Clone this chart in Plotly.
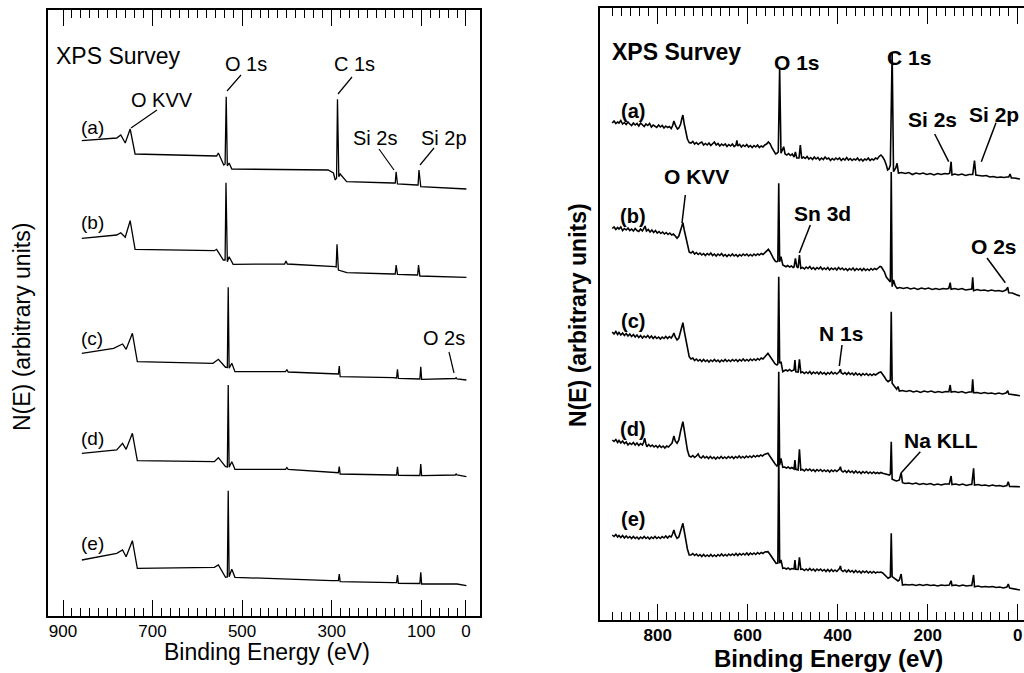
import plotly.graph_objects as go

# ---------------- data (binding energy eV, intensity arb. units) ----------------
SPECTRUM_LABELS = ["(a)", "(b)", "(c)", "(d)", "(e)"]

LEFT_A = [(858, 475.3), (780, 478), (771, 481), (761, 473), (750, 487), (739, 462),
          (557, 460), (553, 463), (541, 451), (538, 452), (535.5, 519.3), (533, 450),
          (529, 453), (523, 447), (308, 446), (296, 443), (292, 436), (289, 438),
          (287, 516.7), (284, 439.3), (281, 442), (266.5, 434.3), (163, 433), (158, 433),
          (156, 444.3), (153, 432), (110, 431), (107, 431), (105, 446), (101, 429.3), (-1, 427)]
LEFT_B = [(858, 377.7), (780, 381), (771, 383.3), (761, 378.7), (750, 395.3), (739, 366.7),
          (562, 365.3), (557, 366.7), (542, 356), (538, 356), (536, 433.3), (533, 354.3),
          (529, 359.3), (520, 351.7), (405, 352), (402, 355), (399, 352), (307, 350.3),
          (292, 349.3), (290, 349), (288, 371.7), (285, 346), (266, 343.3), (163, 342),
          (158, 342), (156, 351), (153, 341.7), (110, 341), (108, 341), (106, 351),
          (103, 340), (-1, 338.7)]
LEFT_C = [(858, 262.7), (787, 267.7), (767, 272), (759, 266.7), (745, 282.7), (734, 254.3),
          (565, 252.7), (553, 256.7), (537, 248.7), (533, 248.5), (531, 328.7), (529, 247.7),
          (523, 252.7), (516, 244.3), (403, 244.3), (400, 246.5), (397, 244), (300, 242),
          (285, 242), (283, 250), (281, 239.3), (163, 238.3), (155, 238), (153, 246.7),
          (151, 237.7), (103, 237), (101, 249.3), (99, 236.7), (24, 237.5), (22, 238.3),
          (20, 237), (-1, 236)]
LEFT_D = [(858, 162.7), (780, 166), (767, 172.7), (759, 166.7), (745, 182.7), (734, 155.3),
          (562, 154.3), (553, 158.3), (537, 149.3), (533, 149), (531, 231), (529, 148.7),
          (523, 154.3), (516, 146.7), (403, 146.7), (400, 148.5), (397, 146.7), (300, 143.3),
          (285, 143.3), (283, 149.3), (281, 142), (163, 141), (155, 141), (153, 149.3),
          (151, 140.7), (103, 140.5), (101, 152), (99, 140.3), (24, 141), (22, 142),
          (20, 141), (-1, 139.3)]
LEFT_E = [(858, 56), (780, 62.7), (767, 66), (759, 59.3), (745, 75.3), (734, 47.7),
          (562, 48.7), (553, 51), (537, 38.7), (533, 39), (531, 125.3), (529, 39.3),
          (523, 46.7), (516, 38.7), (300, 35.3), (285, 35.3), (283, 42), (281, 34.3),
          (163, 33.3), (155, 33.3), (153, 41), (151, 32.7), (103, 32.5), (101, 43.7),
          (99, 32), (24, 32.5), (22, 32.7), (20, 32), (-1, 30.3)]

RIGHT_A = [(901, 497), (897, 499), (893, 496.5), (889, 498), (886, 497), (882, 499.5), (878, 496),
           (874, 497.5), (870, 495.5), (866, 498), (862, 496), (858, 494.5), (854, 497), (850, 495),
           (846, 496.5), (842, 494), (838, 497), (834, 495), (830, 493.5), (826, 496), (822, 494.5),
           (818, 496.5), (814, 493), (810, 495), (806, 494), (802, 492.5), (798, 495), (794, 493),
           (790, 494.5), (786, 492), (782, 494), (778, 492.5), (774, 493.5), (770, 491.5),
           (767, 494), (764, 499), (760, 494), (756, 491), (753, 492), (749, 496), (746, 502),
           (744, 505), (741, 496), (738, 488), (734, 481), (730, 477.5),
           (726, 477), (722, 478.5), (718, 476), (714, 477.5), (710, 475.5), (706, 477), (702, 478),
           (698, 475), (694, 476.5), (690, 475), (686, 477), (682, 474.5), (678, 476), (674, 478),
           (670, 475), (666, 476.5), (662, 474), (658, 476), (654, 474.5), (650, 476), (646, 473.5),
           (642, 475.5), (638, 474), (634, 476), (630, 473.5), (626, 475), (624, 479.5), (622, 474),
           (618, 475.5), (614, 473), (610, 475), (606, 473.5), (602, 475.5), (598, 473),
           (594, 474.5), (590, 472.5), (586, 474.5), (582, 473), (578, 475), (574, 472.5),
           (570, 474), (566, 473), (562, 475), (558, 476), (554, 478), (550, 476), (546, 472),
           (542, 469), (538, 466), (535, 466.7), (532, 468), (529, 552), (526, 466.7), (520, 473.3),
           (517, 466), (513, 465), (509, 466.5), (505, 464.5), (501, 466), (497, 463), (494, 468),
           (491, 462), (486, 462), (483, 475), (480, 461.7),
           (476, 463), (472, 461.5), (468, 463.5), (464, 461), (460, 462.5), (456, 460.5),
           (452, 463), (448, 461), (444, 462.5), (440, 460), (436, 462), (432, 460.5), (428, 463),
           (424, 461), (420, 462), (416, 459.5), (412, 461.5), (408, 460), (404, 462), (400, 460.5),
           (396, 462), (392, 459.5), (388, 461.5), (384, 460), (380, 462.5), (376, 460),
           (372, 461.5), (368, 459.5), (364, 461), (360, 460), (356, 462), (352, 459.5), (348, 461),
           (344, 459), (340, 461), (336, 460), (332, 462), (328, 459.5), (324, 461), (320, 460),
           (316, 462), (312, 461), (308, 463.5), (304, 465), (300, 463), (296, 460), (292, 455),
           (289, 450), (286, 451), (283, 455), (279, 568), (276, 448.3), (271, 452), (268, 456.7),
           (265, 447), (258, 447.5), (250, 446.5), (242, 447.5), (234, 445.5), (226, 447),
           (218, 446), (210, 447), (202, 445.5), (194, 446.5), (186, 445), (178, 446.5),
           (170, 445.5), (162, 446.5), (155, 446), (151, 447), (148, 458.3), (146, 445), (140, 446),
           (132, 445), (124, 446), (116, 444.5), (108, 445.5), (100, 445.5), (96, 459.3), (93, 445),
           (86, 444.5), (78, 444), (70, 444.5), (62, 443), (54, 443.5), (46, 442.5), (38, 443),
           (30, 442.5), (24, 443), (20, 443), (17, 446), (14, 442), (8, 442), (0, 441.7), (-5, 441)]
RIGHT_B = [(901, 391.5), (897, 393), (893, 390.5), (889, 392.5), (886, 391), (882, 393), (878, 389.5),
           (874, 391.5), (870, 390), (866, 392), (862, 389.5), (858, 391), (854, 389), (850, 391.5),
           (846, 389.5), (842, 388.5), (838, 391), (834, 389), (830, 392), (828, 394), (825, 389),
           (821, 390.5), (817, 388), (813, 390), (809, 387.5), (805, 389.5), (801, 387),
           (797, 388.5), (793, 386.5), (789, 388), (785, 386), (781, 387.5), (777, 385.5),
           (773, 387), (769, 385), (765, 386), (761, 384), (757, 381.7), (753, 384), (749, 390),
           (746, 395), (744, 397.3), (741, 390), (738, 383), (734, 374), (730, 368),
           (726, 367), (722, 368.5), (718, 366), (714, 367.5), (710, 365.5), (706, 367), (702, 365),
           (698, 366.5), (694, 364.5), (690, 366.5), (686, 365), (682, 367), (678, 364.5),
           (674, 366), (670, 364), (666, 366), (662, 364.5), (658, 366.5), (654, 364), (650, 365.5),
           (646, 363.5), (642, 365.5), (638, 364), (634, 366), (630, 364), (626, 365.5),
           (622, 363.5), (618, 365.5), (614, 364), (610, 366), (606, 364.5), (602, 366), (598, 364),
           (594, 365.5), (590, 364), (586, 366), (582, 364.5), (578, 366), (574, 365), (570, 366.5),
           (566, 365.5), (562, 367), (558, 368.5), (554, 370.7), (550, 368), (546, 364), (542, 361),
           (538, 358.5), (535, 358.3), (533, 359), (531, 436.7), (529, 358.3), (526, 363.3),
           (522, 355), (518, 354), (515, 353.3), (511, 354.5), (507, 353), (503, 354), (499, 352.5),
           (497, 353), (494, 361.7), (491, 353.3), (488, 352), (485, 365), (482, 351.7),
           (478, 352.5), (474, 351), (470, 353), (466, 351.5), (462, 353.5), (458, 351),
           (454, 352.5), (450, 350.5), (446, 352.5), (442, 351), (438, 353), (434, 350.5),
           (430, 352), (426, 350.5), (422, 352.5), (418, 350), (414, 352), (410, 350.5), (406, 352),
           (402, 350), (398, 352.5), (394, 350.5), (390, 352), (386, 350), (382, 351.5),
           (378, 349.5), (374, 351.5), (370, 350), (366, 352), (362, 349.5), (358, 351.5),
           (354, 350), (350, 351.5), (346, 349.5), (342, 351.5), (338, 349.5), (334, 351),
           (330, 349.5), (326, 351.5), (322, 350), (318, 351.5), (314, 350.5), (310, 352),
           (306, 353.5), (303, 353), (300, 351), (296, 348), (292, 343), (288, 340), (285, 339),
           (283, 338), (281, 448), (279, 333.3), (276, 340), (272, 334), (268, 331.7),
           (262, 332.5), (254, 331.5), (246, 332.5), (238, 331), (230, 332), (222, 330.5),
           (214, 332), (206, 331), (198, 332), (190, 330.5), (182, 331.5), (174, 330.5),
           (166, 331.5), (158, 331), (153, 331.7), (150, 337.3), (148, 330.7), (140, 331.5),
           (132, 330.5), (124, 331.5), (116, 330), (108, 331), (102, 331), (100, 342.7), (98, 329.3),
           (90, 330.5), (82, 329.5), (74, 330), (66, 329), (58, 330), (50, 329), (42, 329.5),
           (34, 328.5), (26, 330), (22, 332.7), (20, 327.3), (12, 327), (4, 325.5), (-5, 324)]
RIGHT_C = [(901, 288), (897, 286), (893, 288.5), (889, 285.5), (886, 287.5), (882, 285), (878, 287),
           (874, 284.5), (870, 286.5), (866, 284), (862, 286), (858, 283.5), (854, 285.5), (850, 283),
           (846, 285), (842, 282.5), (838, 284.5), (834, 282), (830, 284), (826, 282.5), (822, 284.5),
           (818, 282), (814, 284), (810, 281.5), (806, 283.5), (802, 281.5), (798, 283), (794, 281),
           (790, 283), (786, 281.5), (782, 283.5), (778, 281.5), (774, 283.5), (770, 282),
           (767, 284), (764, 287), (761, 283), (757, 280), (753, 282), (749, 289), (746, 295),
           (744, 297.3), (741, 289), (738, 281), (734, 271), (730, 263.3),
           (726, 261), (722, 262), (718, 259.5), (714, 261), (710, 259), (706, 260.5), (702, 258.5),
           (698, 260.5), (694, 258.5), (690, 260), (686, 258), (682, 260), (678, 258.5),
           (674, 260.5), (670, 258.5), (666, 260), (662, 258), (658, 260), (654, 258.5),
           (650, 260.5), (646, 258.5), (642, 260), (638, 258.5), (634, 260.5), (630, 259),
           (626, 260.5), (622, 258.5), (618, 260.5), (614, 259), (610, 261), (606, 259),
           (602, 260.5), (598, 259), (594, 261), (590, 259.5), (586, 261), (582, 259.5),
           (578, 261.5), (574, 260), (570, 262), (566, 261), (562, 263), (558, 265), (555, 266.7),
           (551, 264), (547, 261), (543, 258), (539, 256), (535, 255), (533, 256), (531, 343.3),
           (529, 256.7), (526, 258.3), (522, 248.3), (518, 249.5), (515, 250), (511, 249),
           (507, 250.5), (503, 249), (499, 250), (497, 250), (495, 260), (493, 248.3), (488, 248),
           (485, 260.7), (482, 247.3),
           (478, 248), (474, 246.5), (470, 248), (466, 246.5), (462, 248.5), (458, 246), (454, 248),
           (450, 246.5), (446, 248), (442, 246), (438, 248), (434, 246), (430, 247.5), (426, 245.5),
           (422, 247.5), (418, 246), (414, 248), (410, 246), (406, 247.5), (402, 246), (398, 247.5),
           (396, 248.5), (394, 250.7), (392, 247), (388, 246), (384, 247.5), (380, 245.5),
           (376, 247.5), (372, 245.5), (368, 247), (364, 245), (360, 247), (356, 245), (352, 246.5),
           (348, 244.5), (344, 246.5), (340, 245), (336, 246.5), (332, 244.5), (328, 246),
           (324, 244.5), (320, 246), (316, 245), (312, 246.5), (308, 247.5), (304, 248), (300, 246),
           (296, 243), (292, 240), (288, 238.3), (283, 240), (281, 308.3), (279, 236.7), (276, 235),
           (272, 232), (269, 230.7), (266, 233.5), (263, 229),
           (256, 229.5), (248, 228.5), (240, 229.5), (232, 228), (224, 229), (216, 227.5),
           (208, 229), (200, 228), (192, 229), (184, 227.5), (176, 228.5), (168, 227.5),
           (160, 228.5), (153, 228.3), (150, 235), (148, 228), (140, 228.5), (132, 227.5),
           (124, 228.5), (116, 227), (108, 228), (102, 228), (100, 240.7), (98, 227.3), (90, 227.5),
           (82, 226.5), (74, 227.5), (66, 226.5), (58, 227), (50, 226), (42, 227), (34, 226),
           (26, 227), (22, 229.3), (20, 226), (12, 225.5), (4, 225), (-5, 224.3)]
RIGHT_D = [(901, 180), (897, 178.5), (893, 180.5), (889, 177.5), (886, 179.5), (882, 177), (878, 179),
           (874, 176.5), (870, 178), (866, 175), (862, 177), (858, 175.5), (854, 177.5), (850, 175),
           (846, 177), (842, 174.5), (838, 176.5), (834, 175), (831, 178), (829, 181.7), (826, 176),
           (824, 173.3), (820, 175.5), (816, 173.5), (812, 175), (808, 173), (804, 174.5),
           (800, 172.5), (796, 174.5), (792, 172.5), (788, 174), (784, 172), (780, 174), (776, 173),
           (772, 175), (768, 177), (764, 184), (761, 179), (757, 176.7), (753, 180), (749, 189),
           (746, 195), (744, 198.3), (741, 190), (738, 180), (734, 170), (730, 164),
           (726, 163), (722, 164.5), (718, 162.5), (714, 164), (710, 166), (707, 163), (703, 162),
           (699, 164), (695, 162), (691, 163.5), (687, 161.5), (683, 163.5), (679, 161.5),
           (675, 163), (671, 161), (667, 163), (663, 161.5), (659, 163.5), (655, 161.5), (651, 163),
           (647, 161.5), (643, 163.5), (639, 162), (635, 163.5), (631, 161.5), (627, 163.5),
           (623, 162), (619, 164), (615, 162), (611, 163.5), (607, 162), (603, 164), (599, 162.5),
           (595, 164), (591, 162.5), (587, 164.5), (583, 163), (579, 164.5), (575, 163.5),
           (571, 165), (567, 164), (563, 165.5), (559, 166), (555, 166.7), (551, 164), (547, 161),
           (543, 158), (539, 156), (535, 154), (533, 155), (531, 248.3), (529, 155), (526, 161.7),
           (522, 152.7), (518, 153), (514, 152), (510, 153), (506, 151.5), (502, 152.5), (497, 151),
           (495, 160), (493, 150.7), (488, 150), (485, 170.7), (482, 150),
           (478, 150.5), (474, 149), (470, 151), (466, 149.5), (462, 151), (458, 149), (454, 150.5),
           (450, 148.5), (446, 150.5), (442, 149), (438, 150.5), (434, 148.5), (430, 150),
           (426, 148.5), (422, 150), (418, 148), (414, 150), (410, 148.5), (406, 150), (402, 148.5),
           (398, 150), (396, 151), (394, 153.3), (392, 149.5), (388, 148), (384, 149.5),
           (380, 147.5), (376, 149.5), (372, 147.5), (368, 149), (364, 147), (360, 149), (356, 147),
           (352, 148.5), (348, 146.5), (344, 148.5), (340, 147), (336, 148.5), (332, 146.5),
           (328, 148), (324, 146.5), (320, 148), (316, 146.5), (312, 147.5), (308, 146.5),
           (304, 147.5), (300, 146.7), (295, 146), (290, 145), (285, 145), (283, 146), (281, 178.3),
           (279, 140.7), (275, 140), (270, 139), (266, 139.5), (263, 140), (259, 147.3),
           (256, 137.3),
           (250, 136.5), (242, 137), (234, 136), (226, 137), (218, 135.5), (210, 136.5),
           (202, 135.5), (194, 136.5), (186, 135), (178, 136), (170, 135), (162, 136), (155, 136),
           (152, 136), (148, 144), (146, 135.5), (138, 136), (130, 135), (122, 136), (114, 134.5),
           (106, 135.5), (102, 135.5), (98, 151.7), (96, 135), (88, 135.5), (80, 134.5), (72, 135),
           (64, 134), (56, 135), (48, 134), (40, 134.5), (32, 133.5), (24, 134.5), (21, 138.3),
           (18, 133.5), (10, 133.5), (2, 133.5), (-5, 133.3)]
RIGHT_E = [(901, 85), (897, 83.5), (893, 85.5), (889, 83), (886, 84.5), (882, 82.5), (878, 84.5),
           (874, 82), (870, 84), (866, 82), (862, 83.5), (858, 81.5), (854, 83.5), (850, 81.5),
           (846, 83), (842, 81), (838, 83), (834, 81.5), (830, 83.5), (826, 81.5), (822, 83),
           (818, 81), (814, 83), (810, 81.5), (806, 83.5), (802, 81.5), (798, 83), (794, 81.5),
           (790, 83.5), (786, 82), (782, 84), (778, 82), (774, 84), (770, 83), (767, 86), (764, 90),
           (761, 85), (757, 81.7), (753, 83), (749, 89), (746, 94), (744, 96.7), (741, 89),
           (738, 81), (734, 71), (730, 65),
           (726, 65), (722, 66.5), (718, 64.5), (714, 66), (710, 64), (706, 65.5), (702, 63.5),
           (698, 65.5), (694, 63.5), (690, 65), (686, 63.5), (682, 65.5), (678, 63.5), (674, 65),
           (670, 63.5), (666, 65.5), (662, 64), (658, 66), (654, 64), (650, 65.5), (646, 64),
           (642, 66), (638, 64.5), (634, 66), (630, 64.5), (626, 66.5), (622, 64.5), (618, 66.5),
           (614, 65), (610, 66.5), (606, 65), (602, 67), (598, 65), (594, 67), (590, 65.5),
           (586, 67), (582, 65.5), (578, 67.5), (574, 66), (570, 67.5), (566, 66.5), (562, 68),
           (558, 68), (555, 68.3), (551, 66), (547, 63), (543, 60), (539, 58), (537, 56.7),
           (533, 57), (531, 170), (529, 56.7), (526, 60), (522, 51.7), (518, 52), (514, 51),
           (510, 52), (506, 50.5), (502, 51.5), (497, 51), (495, 60), (493, 50.7), (488, 50.5),
           (485, 62.7), (482, 50.7),
           (478, 51), (474, 49.5), (470, 51), (466, 49.5), (462, 51.5), (458, 49.5), (454, 51),
           (450, 49), (446, 51), (442, 49.5), (438, 51), (434, 49), (430, 50.5), (426, 48.5),
           (422, 50.5), (418, 48.5), (414, 50.5), (410, 48.5), (406, 50), (402, 48.5), (398, 50.5),
           (396, 51.5), (394, 54), (392, 50), (388, 48.5), (384, 50), (380, 48), (376, 50), (372, 48),
           (368, 49.5), (364, 47.5), (360, 49.5), (356, 47.5), (352, 49), (348, 47), (344, 49),
           (340, 47.5), (336, 49), (332, 47), (328, 48.5), (324, 47), (320, 48.5), (316, 47),
           (312, 48), (308, 47.5), (304, 48), (300, 47), (296, 45.5), (292, 44), (288, 41.7),
           (283, 43), (281, 86.7), (279, 43.3), (275, 42), (270, 40), (266, 39), (263, 40),
           (259, 46), (256, 35),
           (250, 35.5), (242, 35), (234, 35.5), (226, 34.5), (218, 35.5), (210, 34.5), (202, 35.5),
           (194, 34.5), (186, 35), (178, 34), (170, 35), (162, 34.5), (155, 35), (152, 35),
           (148, 39.3), (146, 34.5), (138, 35), (130, 34), (122, 35), (114, 34), (106, 34.5),
           (102, 34.5), (98, 45), (96, 33.3), (88, 34), (80, 33), (72, 33.5), (64, 33), (56, 33.5),
           (48, 32.5), (40, 33), (32, 32), (24, 33), (21, 36), (18, 32), (10, 31.5), (2, 31), (-5, 30)]

LEFT_SPECTRA = [LEFT_A, LEFT_B, LEFT_C, LEFT_D, LEFT_E]
RIGHT_SPECTRA = [RIGHT_A, RIGHT_B, RIGHT_C, RIGHT_D, RIGHT_E]

TICKVALS = [900, 800, 700, 600, 500, 400, 300, 200, 100, 0]
LEFT_TICKTEXT = ["900", "", "700", "", "500", "", "300", "", "100", "0"]
RIGHT_TICKTEXT = ["", "800", "", "600", "", "400", "", "200", "", "0"]
MINOR_VALS = list(range(0, 901, 20))

# ---------------- figure ----------------
W, H = 1024, 673


def px(x):
    return min(1.0, max(0.0, x / W))


def py(y):
    return min(1.0, max(0.0, 1 - y / H))


fig = go.Figure()
for s in LEFT_SPECTRA:
    ev, n = zip(*s)
    fig.add_trace(go.Scatter(x=ev, y=n, mode="lines", line=dict(color="black", width=1.3),
                             xaxis="x", yaxis="y", hoverinfo="skip"))
for s in RIGHT_SPECTRA:
    ev, n = zip(*s)
    fig.add_trace(go.Scatter(x=ev, y=n, mode="lines", line=dict(color="black", width=1.6),
                             xaxis="x2", yaxis="y2", hoverinfo="skip"))

REG = "Liberation Sans, Arial, sans-serif"


def xaxis_style(dom, rng, tt, bold, lw, anchor):
    return dict(domain=dom, range=rng, anchor=anchor, showline=True, linecolor="black",
                linewidth=lw, mirror="ticks", ticks="inside", ticklen=16, tickwidth=1.3,
                tickcolor="black", tickmode="array", tickvals=TICKVALS, ticktext=tt,
                showgrid=False, zeroline=False,
                tickfont=dict(family=REG, size=17, color="black",
                              weight="bold" if bold else "normal"),
                minor=dict(tickmode="array", tickvals=MINOR_VALS, ticks="inside", ticklen=8,
                           tickwidth=1.2, tickcolor="black", showgrid=False),
                ticklabelstandoff=-1)


def yaxis_style(dom, rng, anchor, lw, mirror):
    return dict(domain=dom, range=rng, showline=True, linecolor="black", linewidth=lw,
                mirror=mirror, ticks="", showticklabels=False, showgrid=False, zeroline=False,
                anchor=anchor)


fig.update_layout(
    width=W, height=H, margin=dict(l=0, r=0, t=0, b=0),
    paper_bgcolor="white", plot_bgcolor="white", showlegend=False,
    xaxis=xaxis_style([px(48), px(480)], [933.5, -31.3], LEFT_TICKTEXT, False, 1.5, "y"),
    yaxis=yaxis_style([py(616), py(10)], [0, 606], "x", 1.5, True),
    xaxis2=xaxis_style([px(600), px(1024)], [928.2, -14], RIGHT_TICKTEXT, True, 2, "y2"),
    yaxis2=yaxis_style([py(620), py(7.5)], [0, 612.5], "x2", 2, False),
)


def label(text, x, y, size, bold=False, angle=0):
    fig.add_annotation(text=text, x=px(x), y=py(y), xref="paper", yref="paper",
                       showarrow=False, xanchor="center", yanchor="middle", textangle=angle,
                       font=dict(family=REG, size=size, color="black",
                                 weight="bold" if bold else "normal"))


def leader(x0, y0, x1, y1, w=1.2):
    fig.add_shape(type="line", xref="paper", yref="paper", x0=px(x0), y0=py(y0),
                  x1=px(x1), y1=py(y1), line=dict(color="black", width=w))


# left panel text
label("XPS Survey", 117.5, 56, 23)
label("O 1s", 246, 64, 20)
label("C 1s", 354, 63.5, 20)
label("O KVV", 162, 100, 20)
label("Si 2s", 375, 138, 20)
label("Si 2p", 444, 138, 20)
label("O 2s", 444, 338, 20)
for lab, yy in zip(SPECTRUM_LABELS, [127, 223, 338, 438, 543]):
    label(lab, 92, yy, 19)
label("Binding Energy (eV)", 267, 652, 23)
label("N(E) (arbitrary units)", 22, 327, 23, angle=-90)

leader(157, 110, 131, 128)
leader(241, 75, 227, 91)
leader(352, 77, 338, 94)
leader(379, 149, 394, 170)
leader(434, 148, 420, 165)
leader(449, 352, 454, 373)

# right panel text
label("XPS Survey", 676, 52, 23, True)
label("O 1s", 797, 62, 21, True)
label("C 1s", 909, 57, 21, True)
label("Si 2s", 932, 119, 21, True)
label("Si 2p", 994, 114, 21, True)
label("O KVV", 696, 177, 21, True)
label("Sn 3d", 822, 213, 21, True)
label("O 2s", 994, 246, 21, True)
label("N 1s", 841, 333, 21, True)
label("Na KLL", 941, 440, 21, True)
for lab, yy in zip(SPECTRUM_LABELS, [111, 216, 321, 429, 519]):
    label(lab, 633, yy, 20, True)
label("Binding Energy (eV)", 828, 658, 24, True)
label("N(E) (arbitrary units)", 578, 315, 23, True, angle=-90)

leader(685.3, 195, 682, 223, 1.5)
leader(810.3, 225, 799.3, 253, 1.5)
leader(934.7, 134, 948.7, 161.7, 1.5)
leader(996, 122.7, 981.3, 161.7, 1.5)
leader(987, 258, 1005.3, 282.7, 1.5)
leader(842, 345, 839.3, 366, 1.5)
leader(920.3, 451.7, 901.3, 472.7, 1.5)

# the page's default body margin would push the figure off the window edge
fig.write_html("out.html", config={"displayModeBar": False},
               post_script="document.body.style.margin='0';document.body.style.overflow='hidden';")
